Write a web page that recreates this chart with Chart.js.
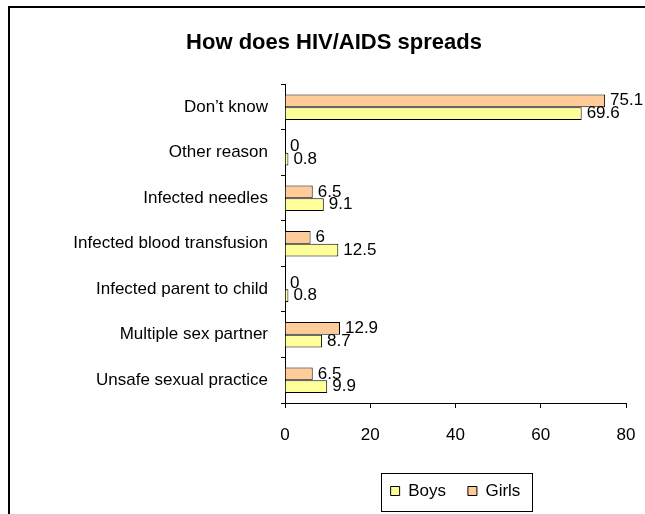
<!DOCTYPE html>
<html>
<head>
<meta charset="utf-8">
<title>How does HIV/AIDS spreads</title>
<script src="https://cdn.jsdelivr.net/npm/chart.js@4.4.1/dist/chart.umd.min.js"></script>
<style>
  html, body { margin: 0; padding: 0; background: #fff; }
  #wrap { position: relative; width: 645px; height: 514px; }
</style>
</head>
<body>
<div id="wrap"><canvas id="grafico" width="645" height="514"></canvas></div>
<script>
// datos de la encuesta (porcentajes)
var categorias = ["Don\u2019t know", "Other reason", "Infected needles", "Infected blood transfusion",
  "Infected parent to child", "Multiple sex partner", "Unsafe sexual practice"];
var valoresGirls = [75.1, 0, 6.5, 6, 0, 12.9, 6.5];
var valoresBoys = [69.6, 0.8, 9.1, 12.5, 0.8, 8.7, 9.9];
var ticksX = [0, 20, 40, 60, 80];

var fuente = '"Liberation Sans", Arial, sans-serif';
Chart.defaults.font.family = fuente;
Chart.defaults.color = '#000';

// marco exterior del gráfico (solo lados izquierdo y superior visibles)
var marcoExterior = {
  id: 'marcoExterior',
  beforeDraw: function (chart) {
    var ctx = chart.ctx;
    ctx.save();
    ctx.strokeStyle = '#000';
    ctx.lineWidth = 2;
    ctx.beginPath();
    ctx.moveTo(9, chart.height + 5);
    ctx.lineTo(9, 7);
    ctx.lineTo(chart.width + 5, 7);
    ctx.stroke();
    ctx.restore();
  }
};

// valores al final de cada barra
var etiquetasValor = {
  id: 'etiquetasValor',
  afterDatasetsDraw: function (chart) {
    var ctx = chart.ctx;
    ctx.save();
    ctx.font = '17px ' + fuente;
    ctx.fillStyle = '#000';
    ctx.textAlign = 'left';
    ctx.textBaseline = 'middle';
    chart.data.datasets.forEach(function (ds, i) {
      chart.getDatasetMeta(i).data.forEach(function (barra, j) {
        ctx.fillText(String(ds.data[j]), barra.x + 5, barra.y);
      });
    });
    ctx.restore();
  }
};

// recuadro alrededor de la leyenda
var marcoLeyenda = {
  id: 'marcoLeyenda',
  afterDraw: function (chart) {
    var cajas = chart.legend.legendHitBoxes;
    if (!cajas || !cajas.length) return;
    var izq = Math.min.apply(null, cajas.map(function (c) { return c.left; })) - 10;
    var der = Math.max.apply(null, cajas.map(function (c) { return c.left + c.width; })) + 11;
    var arriba = cajas[0].top - 10;
    var abajo = cajas[0].top + cajas[0].height + 11;
    var ctx = chart.ctx;
    ctx.save();
    ctx.strokeStyle = '#000';
    ctx.lineWidth = 1;
    ctx.strokeRect(Math.round(izq) + 0.5, Math.round(arriba) + 0.5, Math.round(der - izq), Math.round(abajo - arriba));
    ctx.restore();
  }
};

var ctx = document.getElementById('grafico').getContext('2d');
var miChart = new Chart(ctx, {
  type: 'bar',
  data: {
    labels: categorias,
    datasets: [
      { label: 'Girls', data: valoresGirls, backgroundColor: '#FFCC99', borderColor: '#000', borderWidth: 1,
        categoryPercentage: 0.56, barPercentage: 1 },
      { label: 'Boys', data: valoresBoys, backgroundColor: '#FFFF99', borderColor: '#000', borderWidth: 1,
        categoryPercentage: 0.56, barPercentage: 1 }
    ]
  },
  options: {
    indexAxis: 'y',
    responsive: false,
    animation: false,
    devicePixelRatio: 1,
    layout: { padding: { left: 42, right: 19, top: 0, bottom: 4.5 } },
    scales: {
      x: {
        min: ticksX[0],
        max: ticksX[ticksX.length - 1],
        afterBuildTicks: function (eje) { eje.ticks = ticksX.map(function (v) { return { value: v }; }); },
        afterFit: function (eje) {
          eje.height = 57.5;
          eje.paddingLeft = 0;
          eje.paddingRight = 0;
        },
        ticks: { font: { size: 17 }, color: '#000', padding: 17, maxRotation: 0 },
        grid: { drawOnChartArea: false, tickLength: 5, color: '#000' },
        border: { color: '#000', width: 1 }
      },
      y: {
        afterFit: function (eje) { eje.width = 243; },
        ticks: { font: { size: 17 }, color: '#000', padding: 13, autoSkip: false },
        grid: { offset: true, drawOnChartArea: false, tickLength: 4, color: '#000' },
        border: { color: '#000', width: 1 }
      }
    },
    plugins: {
      title: {
        display: true,
        text: 'How does HIV/AIDS spreads',
        font: { size: 22, weight: 'bold' },
        color: '#000',
        padding: { top: 30, bottom: 28 }
      },
      legend: {
        position: 'bottom',
        reverse: true,
        fullSize: false,
        labels: { boxWidth: 9, boxHeight: 9, font: { size: 17 }, color: '#000', padding: 22 }
      },
      tooltip: { enabled: false }
    }
  },
  plugins: [marcoExterior, etiquetasValor, marcoLeyenda]
});
</script>
</body>
</html>
